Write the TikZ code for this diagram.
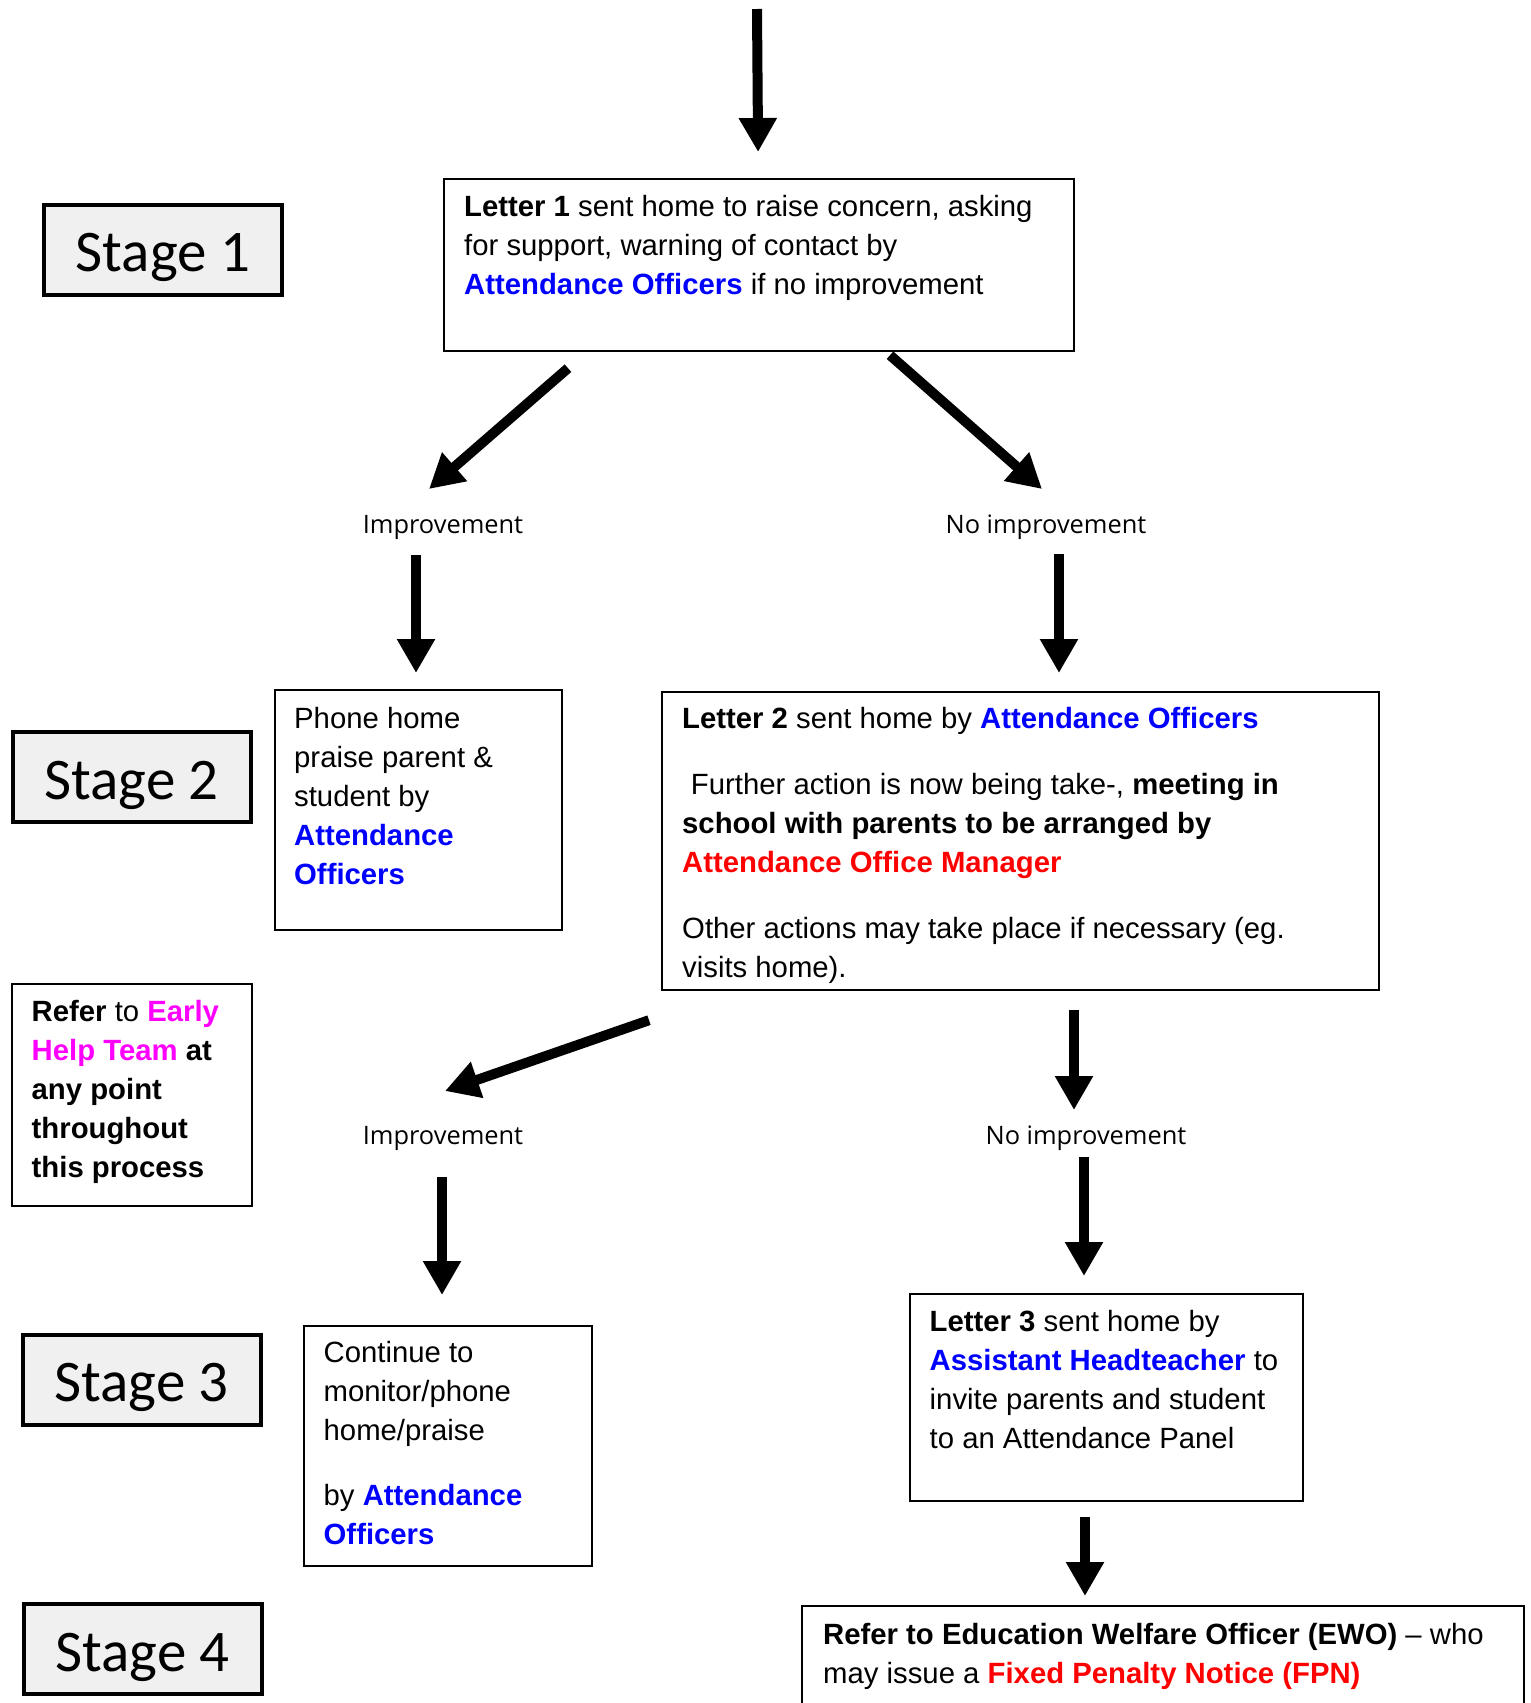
\documentclass[tikz,border=0pt]{standalone}
\usepackage{fontspec}
\setmainfont{Liberation Sans}
\newfontfamily\stagefont{Carlito}
\newfontfamily\labelfont{Open Sans}
\usetikzlibrary{arrows.meta, calc}

\definecolor{stagegray}{HTML}{F0F0F0}
\definecolor{officeblue}{HTML}{0000FF}
\definecolor{alertred}{HTML}{FF0000}
\definecolor{helppink}{HTML}{FF00FF}

\newcommand{\who}[1]{\textcolor{officeblue}{\textbf{#1}}}
\newcommand{\alert}[1]{\textcolor{alertred}{\textbf{#1}}}

\begin{document}
\begin{tikzpicture}[x=1pt, y=-1pt,
    stagebox/.style={draw, line width=4pt, fill=stagegray, inner sep=0pt,
      minimum width=238pt, minimum height=90pt, text height=44pt, text depth=0pt,
      font=\stagefont\fontsize{59}{62}\selectfont},
    textbox/.style={draw, line width=2.2pt, inner sep=0pt, anchor=north west},
    boxtext/.style={anchor=north west, inner sep=0pt, align=left,
      font=\fontsize{29.3}{39}\selectfont},
    outcome/.style={anchor=base, inner sep=0pt,
      font=\labelfont\fontsize{25.4}{30}\selectfont},
    bigarrow/.style={line width=10pt, -{Triangle[length=34pt,width=36pt]}}]
	\useasboundingbox (0,0) rectangle (1531,1703);
	\clip (0,0) rectangle (1531,1703);

	%% stages
	\node[stagebox] (s1) at (163,249.5) {Stage 1};
	\node[stagebox] (s2) at (131.5,777) {Stage 2};
	\node[stagebox] (s3) at (141.5,1379.5) {Stage 3};
	\node[stagebox] (s4) at (142.5,1649) {Stage 4};

	%% stage 1
	\coordinate (start) at (757,9);
	\node[textbox, minimum width=630pt, minimum height=172pt] (l1) at (443,178) {};
	\node[boxtext] (l1t) at ($(l1.north west)+(21,10.7)$) {\strut\textbf{Letter 1} sent home to raise concern, asking\\
		for support, warning of contact by\\
		\who{Attendance Officers} if no improvement};

	\node[outcome] (imp1) at (443,533) {Improvement};
	\node[outcome] (noimp1) at (1046,533) {No improvement};

	%% stage 2
	\node[textbox, minimum width=287pt, minimum height=240pt] (phone) at (274,689) {};
	\node[boxtext] (phonet) at ($(phone.north west)+(20,11.7)$) {\strut Phone home\\
		praise parent \&\\
		student by\\
		\who{Attendance}\\
		\who{Officers}};

	\node[textbox, minimum width=717pt, minimum height=298pt] (l2) at (661,691) {};
	\node[boxtext] (l2t) at ($(l2.north west)+(21,9.7)$) {\strut\textbf{Letter 2} sent home by \who{Attendance Officers}\\[27pt]
		\hspace{0.3em}Further action is now being take-, \textbf{meeting in}\\
		\textbf{school with parents to be arranged by}\\
		\alert{Attendance Office Manager}\\[27pt]
		Other actions may take place if necessary (eg.\\
		visits home).};

	\node[textbox, minimum width=240pt, minimum height=222pt] (help) at (11,983) {};
	\node[boxtext] (helpt) at ($(help.north west)+(20.5,10.7)$) {\strut\textbf{Refer} to \textcolor{helppink}{\textbf{Early}}\\
		\textcolor{helppink}{\textbf{Help Team}} \textbf{at}\\
		\textbf{any point}\\
		\textbf{throughout}\\
		\textbf{this process}};

	\node[outcome] (imp2) at (443,1144) {Improvement};
	\node[outcome] (noimp2) at (1086,1144) {No improvement};

	%% stage 3
	\node[textbox, minimum width=288pt, minimum height=240pt] (cont) at (303,1325) {};
	\node[boxtext] (contt) at ($(cont.north west)+(20.5,9.7)$) {\strut Continue to\\
		monitor/phone\\
		home/praise\\[26pt]
		by \who{Attendance}\\
		\who{Officers}};

	\node[textbox, minimum width=393pt, minimum height=207pt] (l3) at (909,1293) {};
	\node[boxtext] (l3t) at ($(l3.north west)+(20.5,10.7)$) {\strut\textbf{Letter 3} sent home by\\
		\who{Assistant Headteacher} to\\
		invite parents and student\\
		to an Attendance Panel};

	%% stage 4
	\node[textbox, minimum width=722pt, minimum height=130pt] (ewo) at (801,1605) {};
	\node[boxtext] (ewot) at ($(ewo.north west)+(22,11.7)$) {\strut\textbf{Refer to Education Welfare Officer (EWO)} -- who\\
		may issue a \alert{Fixed Penalty Notice (FPN)}};

	%% arrows
	\draw[bigarrow] (start) -- ($(l1.north)+(-1,-26)$);
	\draw[bigarrow] ($(l1.south west)+(125,16)$) -- ($(imp1.base)+(-14,-44)$);
	\draw[bigarrow] ($(l1.south west)+(447,3)$) -- ($(noimp1.base)+(-4,-44)$);
	\draw[bigarrow] ($(imp1.base)+(-27,22)$) -- ($(phone.north west)+(142,-16)$);
	\draw[bigarrow] ($(noimp1.base)+(13,21)$) -- ($(l2.north west)+(398,-18)$);
	\draw[bigarrow] ($(l2.south west)+(-12,29)$) -- ($(imp2.base)+(2,-53)$);
	\draw[bigarrow] ($(l2.south west)+(413,19)$) -- ($(noimp2.base)+(-12,-34)$);
	\draw[bigarrow] ($(imp2.base)+(-1,33)$) -- ($(cont.north west)+(139,-30)$);
	\draw[bigarrow] ($(noimp2.base)+(-2,13)$) -- ($(l3.north west)+(175,-17)$);
	\draw[bigarrow] ($(l3.south west)+(176,15)$) -- ($(ewo.north west)+(284,-9)$);
\end{tikzpicture}
\end{document}
